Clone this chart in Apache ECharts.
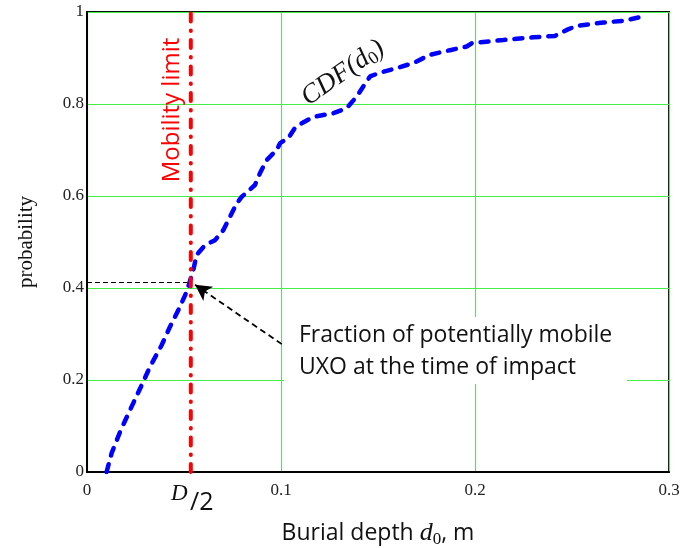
<!DOCTYPE html>
<html>
<head>
<meta charset="utf-8">
<script src="https://cdn.jsdelivr.net/npm/echarts@6/dist/echarts.min.js"></script>
<style>html,body{margin:0;padding:0;background:#fff;}#c{width:685px;height:548px;}</style>
</head>
<body>
<div id="c"></div>
<script>
// Burial depth d0 (m) and CDF values
const depth = [0.0101,0.0127,0.0174,0.0222,0.0282,0.0325,0.0385,0.0428,0.0471,0.0514,0.0548,0.0565,0.0608,0.066,0.0703,0.0737,0.0772,0.0797,0.0866,0.0892,0.0926,0.0978,0.0995,0.1038,0.1072,0.1107,0.1167,0.127,0.1338,0.139,0.1424,0.1459,0.151,0.1596,0.1682,0.1768,0.1871,0.1957,0.1983,0.2043,0.2146,0.23,0.2412,0.2473,0.2524,0.2661,0.2765,0.2876];
const cdf   = [0,0.041,0.091,0.135,0.189,0.229,0.276,0.316,0.352,0.392,0.439,0.472,0.493,0.504,0.526,0.555,0.584,0.598,0.624,0.65,0.678,0.7,0.715,0.726,0.748,0.758,0.772,0.78,0.791,0.816,0.838,0.86,0.868,0.878,0.889,0.907,0.917,0.925,0.932,0.935,0.939,0.945,0.948,0.961,0.97,0.977,0.981,0.991];
const xTicks = [0, 0.1, 0.2, 0.3];
const yTicks = [0, 0.2, 0.4, 0.6, 0.8, 1];
const mobilityLimit = 0.0535;   // D/2
const fractionMobile = 0.412;   // CDF at D/2
const arrowStart = [0.1004, 0.278];
const arrowEnd = [0.0557, 0.407];

const chart = echarts.init(document.getElementById('c'));
const serif = '"Liberation Serif", "Times New Roman", serif';
const sans = '"Open Sans", "Noto Sans", sans-serif';

chart.setOption({
  animation: false,
  backgroundColor: '#fff',
  grid: { left: 87, right: 16, top: 12, bottom: 76, outerBoundsMode: 'none', containLabel: false, show: true, borderColor: '#111', borderWidth: 2, backgroundColor: 'transparent' },
  xAxis: {
    type: 'value', min: xTicks[0], max: xTicks[xTicks.length-1], interval: 0.1,
    axisLine: { show: true, lineStyle: { color: '#000', width: 2 } },
    axisTick: { show: false },
    axisLabel: { color: '#222', fontFamily: serif, fontSize: 17, margin: 10 },
    splitLine: { show: true, lineStyle: { color: '#44ee44', width: 1.2 } },
    name: '{t|Burial depth }{i|d}{s|0}{t|, m}', nameLocation: 'middle', nameGap: 47,
    nameTextStyle: { rich: {
      t: { fontFamily: sans, fontSize: 23, color: '#111' },
      i: { fontFamily: serif, fontStyle: 'italic', fontSize: 26, color: '#111' },
      s: { fontFamily: serif, fontSize: 17, color: '#111', verticalAlign: 'bottom', padding: [12,0,0,0] }
    } }
  },
  yAxis: {
    type: 'value', min: yTicks[0], max: yTicks[yTicks.length-1], interval: 0.2,
    axisLine: { show: true, lineStyle: { color: '#000', width: 2 } },
    axisTick: { show: false },
    axisLabel: { color: '#222', fontFamily: serif, fontSize: 17, margin: 3 },
    splitLine: { show: true, lineStyle: { color: '#44ee44', width: 1.2 } },
    name: 'probability', nameLocation: 'middle', nameGap: 50,
    nameTextStyle: { fontFamily: serif, fontSize: 21, color: '#111' }
  },
  series: [
    {
      type: 'line', data: depth.map((d, i) => [d, cdf[i]]), showSymbol: false, smooth: false, z: 5,
      lineStyle: { color: '#0000ff', width: 4.5, type: [8, 9], cap: 'round' }
    },
    {
      type: 'line', data: [[mobilityLimit, 0], [mobilityLimit, 1]], showSymbol: false, z: 6,
      lineStyle: { color: '#ff0000', width: 4, type: [8, 9, 0.5, 9], cap: 'round' }
    },
    {
      type: 'line', data: [[0, fractionMobile], [mobilityLimit, fractionMobile]], showSymbol: false, z: 4,
      lineStyle: { color: '#000', width: 1.2, type: [5, 3] }
    },
    {
      type: 'line', data: [], z: 7,
      markLine: {
        silent: true, symbol: ['none', 'arrow'], symbolSize: [13, 16],
        label: { show: false },
        lineStyle: { color: '#000', width: 1.8, type: [6, 4] },
        data: [[{ coord: arrowStart }, { coord: arrowEnd }]]
      }
    }
  ],
  graphic: [
    { type: 'rect', z: 10, shape: { x: 284, y: 317, width: 343, height: 67 }, style: { fill: '#fff' } },
    { type: 'text', z: 11, left: 299, top: 319, style: { text: 'Fraction of potentially mobile\nUXO at the time of impact', font: '23px "Open Sans", sans-serif', fill: '#111', lineHeight: 32 } },
    { type: 'text', z: 11, x: 172, y: 110, rotation: Math.PI / 2, style: { text: 'Mobility limit', font: '24px "Open Sans", sans-serif', fill: '#ff0000', align: 'center', verticalAlign: 'middle' } },
    { type: 'text', z: 11, x: 343, y: 73, rotation: 35 * Math.PI / 180, style: { text: '{i|CDF(d}{s|0}{i|)}', align: 'center', verticalAlign: 'middle', rich: {
      i: { font: 'italic 27px "Liberation Serif", serif', fill: '#111' },
      s: { font: '18px "Liberation Serif", serif', fill: '#111', padding: [12,0,0,0] }
    } } },
    { type: 'text', z: 11, x: 171, y: 482, style: { text: 'D', font: 'italic 23px "Liberation Serif", serif', fill: '#111' } },
    { type: 'text', z: 11, x: 190, y: 490, style: { text: '/2', font: '25px "Open Sans", sans-serif', fill: '#111' } }
  ]
});
</script>
</body>
</html>
